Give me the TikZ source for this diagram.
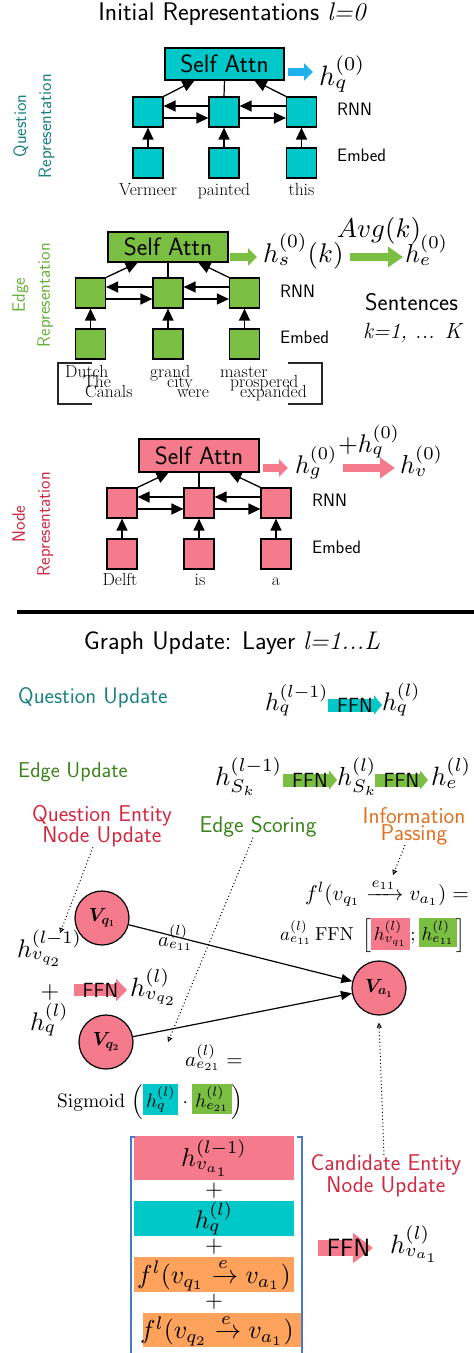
\documentclass[tikz,border=0pt]{standalone}
\usepackage{amsmath}
\usepackage{bm}
\usepackage{graphicx}
\DeclareFontShape{OML}{cmm}{m}{it}{<-6>cmmi5<6-7>cmmi6<7-8>cmmi7<8-9>cmmi8<9-10>cmmi9<10-12>cmmi10<12->cmmi12}{}
\DeclareFontShape{OML}{cmm}{b}{it}{<-6>cmmib5<6-7>cmmib6<7-8>cmmib7<8-9>cmmib8<9-10>cmmib9<10->cmmib10}{}
\DeclareFontShape{OMS}{cmsy}{m}{n}{<-6>cmsy5<6-7>cmsy6<7-8>cmsy7<8-9>cmsy8<9-10>cmsy9<10->cmsy10}{}
\DeclareFontShape{OMX}{cmex}{m}{n}{<->cmex10}{}
\DeclareFontShape{OT1}{cmr}{m}{n}{<-6>cmr5<6-7>cmr6<7-8>cmr7<8-9>cmr8<9-10>cmr9<10-12>cmr10<12-17>cmr12<17->cmr17}{}
\usetikzlibrary{arrows.meta,calc}
\definecolor{cq}{RGB}{0,200,200}
\definecolor{cg}{RGB}{122,190,66}
\definecolor{cp}{RGB}{244,122,140}
\definecolor{co}{RGB}{255,163,92}
\definecolor{cblue}{RGB}{30,176,236}
\definecolor{tteal}{RGB}{26,128,128}
\definecolor{tgreen}{RGB}{104,176,56}
\definecolor{tdgreen}{RGB}{58,130,26}
\definecolor{tred}{RGB}{208,40,64}
\definecolor{torange}{RGB}{224,112,32}
\definecolor{bblue}{RGB}{72,120,200}
\newcommand{\fsz}[1]{\fontsize{#1}{#1}\selectfont}
\newcommand{\mth}[2]{\scalebox{#1}{\fontsize{10}{12}\selectfont$#2$}}
\setlength{\fboxsep}{1.5pt}
\begin{document}
\begin{tikzpicture}[x=1pt,y=-1pt,
  sq/.style={draw,line width=1.2pt,minimum size=30pt,inner sep=0pt},
  sabox/.style={draw,line width=1.2pt,inner sep=0pt,font=\sffamily\fsz{25}},
  lbl/.style={font=\sffamily\fsz{18},anchor=west,inner sep=0pt},
  word/.style={font=\rmfamily\fsz{17.5},inner sep=0pt},
  arr/.style={line width=1.3pt,-{Triangle[length=12pt,width=11pt]}},
  plain/.style={line width=1.2pt},
  bw/.style={anchor=base west,inner sep=0pt},
  rot/.style={rotate=90,align=center,font=\sffamily\fontsize{18}{25}\selectfont},
  fatA/.style={line width=8pt,-{Triangle[length=9pt,width=17pt]}},
  fatB/.style={line width=8pt,-{Triangle[length=15pt,width=20pt]}},
  ffnA/.style={line width=13pt,-{Triangle[length=8pt,width=19pt]}},
  ffnlbl/.style={font=\sffamily\fsz{20.5},inner sep=0pt},
  sect/.style={font=\sffamily\fontsize{22.8}{17}\selectfont,align=center,inner sep=0pt},
  dotarr/.style={line width=1pt,dash pattern=on 1pt off 2.5pt,-{Triangle[open,length=5pt,width=5pt]}},
  vnode/.style={circle,draw,line width=1.2pt,fill=cp,minimum size=54pt,inner sep=0pt,font=\fsz{19}},
  edgearr/.style={line width=1.2pt,-{Triangle[length=11pt,width=9pt]}},
  cbox/.style={minimum width=160pt,inner sep=0pt}
]
\useasboundingbox (0,0) rectangle (474,1353);

%% ---------- Initial representations ----------
\node[font=\sffamily\fsz{25.5}] (title) at (232,14) {Initial Representations {\rmfamily\itshape l=0}};

% Question
\node[rot,text=tteal] (qlab) at (34,126) {Question\\Representation};
\node[sabox,fill=cq,minimum width=119pt,minimum height=32pt] (qsa) at (224.5,64) {Self Attn};
\node[sq,fill=cq] (qr1) at (148,112) {};
\node[sq,fill=cq] (qr2) at (224,112) {};
\node[sq,fill=cq] (qr3) at (301.5,112) {};
\node[sq,fill=cq] (qe1) at (148,163) {};
\node[sq,fill=cq] (qe2) at (224,163) {};
\node[sq,fill=cq] (qe3) at (301.5,163) {};
\node[word,anchor=base] (qw1) at (148,195) {Vermeer};
\node[word,anchor=base] (qw2) at (224,195) {painted};
\node[word,anchor=base] (qw3) at (301.5,195) {this};
\node[lbl] (qrnn) at (337,109) {RNN};
\node[lbl] (qemb) at (337,155) {Embed};
\foreach \i in {1,2,3} {\draw[arr] (qe\i.north) -- (qr\i.south);}
\draw[arr] ([yshift=-6pt]qr1.east) -- ([yshift=-6pt]qr2.west);
\draw[arr] ([yshift=-6pt]qr2.east) -- ([yshift=-6pt]qr3.west);
\draw[arr] ([yshift=6pt]qr2.west) -- ([yshift=6pt]qr1.east);
\draw[arr] ([yshift=6pt]qr3.west) -- ([yshift=6pt]qr2.east);
\draw[arr] (qr1.north east) -- ($(qsa.south west)!0.25!(qsa.south east)$);
\draw[arr] (qr3.north west) -- ($(qsa.south west)!0.75!(qsa.south east)$);
\draw[plain] (qr2.north) -- (qsa.south);
\node[bw] (hq0) at (319,85) {\mth{2.8}{h_q^{(0)}}};
\coordinate (qa0) at (288,72);
\coordinate (qa1) at (313,72);
\draw[fatA,cblue] (qa0) -- (qa1);

% Edge
\node[rot,text=tgreen] (elab) at (33,295) {Edge\\Representation};
\node[sabox,fill=cg,minimum width=120pt,minimum height=30pt] (esa) at (168,247) {Self Attn};
\node[sq,fill=cg] (er1) at (90.5,293) {};
\node[sq,fill=cg] (er2) at (168,293) {};
\node[sq,fill=cg] (er3) at (244.5,293) {};
\node[sq,fill=cg] (ee1) at (90.5,344) {};
\node[sq,fill=cg] (ee2) at (168,344) {};
\node[sq,fill=cg] (ee3) at (244.5,344) {};
\foreach \i in {1,2,3} {\draw[arr] (ee\i.north) -- (er\i.south);}
\draw[arr] ([yshift=-6pt]er1.east) -- ([yshift=-6pt]er2.west);
\draw[arr] ([yshift=-6pt]er2.east) -- ([yshift=-6pt]er3.west);
\draw[arr] ([yshift=6pt]er2.west) -- ([yshift=6pt]er1.east);
\draw[arr] ([yshift=6pt]er3.west) -- ([yshift=6pt]er2.east);
\draw[arr] (er1.north east) -- ($(esa.south west)!0.25!(esa.south east)$);
\draw[arr] (er3.north west) -- ($(esa.south west)!0.75!(esa.south east)$);
\draw[plain] (er2.north) -- (esa.south);
\node[word,bw] (ew11) at (65,377) {Dutch};
\node[word,bw] (ew21) at (83,387) {The};
\node[word,bw] (ew31) at (85,397) {Canals};
\node[word,bw] (ew12) at (150,377) {grand};
\node[word,bw] (ew22) at (167,387) {city};
\node[word,bw] (ew32) at (177,397) {were};
\node[word,bw] (ew13) at (220,377) {master};
\node[word,bw] (ew23) at (230,387) {prospered};
\node[word,bw] (ew33) at (240,397) {expanded};
\draw[line width=1.4pt,black!85] (92,363) -- (58,363) -- (58,404) -- (92,404);
\draw[line width=1.4pt,black!85] (288,363) -- (322,363) -- (322,404) -- (288,404);
\node[lbl] (ernn) at (280,291) {RNN};
\node[lbl] (eemb) at (280,337) {Embed};
\node[bw] (hs0) at (263,262) {\mth{2.7}{h_s^{(0)}(k)}};
\node[bw] (he0) at (405,262) {\mth{2.6}{h_e^{(0)}}};
\node[anchor=base,inner sep=0pt] (avg) at (379,237) {\mth{2.7}{Avg(k)}};
\coordinate (ga0) at (230,257);
\coordinate (ga1) at (257,257);
\coordinate (ga2) at (350,257);
\coordinate (ga3) at (403,257);
\draw[fatA,cg] (ga0) -- (ga1);
\draw[fatB,cg] (ga2) -- (ga3);
\node[lbl,font=\sffamily\fsz{24}] (sent) at (365,302) {Sentences};
\node[lbl,font=\rmfamily\itshape\fsz{22}] (kk) at (363,333) {k=1, ... K};

% Node
\node[rot,text=tred] (nlab) at (33,524) {Node\\Representation};
\node[sabox,fill=cp,minimum width=120pt,minimum height=33pt] (nsa) at (199,455.5) {Self Attn};
\node[sq,fill=cp] (nr1) at (122,503) {};
\node[sq,fill=cp] (nr2) at (199,503) {};
\node[sq,fill=cp] (nr3) at (276,503) {};
\node[sq,fill=cp] (ne1) at (122,554) {};
\node[sq,fill=cp] (ne2) at (199,554) {};
\node[sq,fill=cp] (ne3) at (276,554) {};
\foreach \i in {1,2,3} {\draw[arr] (ne\i.north) -- (nr\i.south);}
\draw[arr] ([yshift=-6pt]nr1.east) -- ([yshift=-6pt]nr2.west);
\draw[arr] ([yshift=-6pt]nr2.east) -- ([yshift=-6pt]nr3.west);
\draw[arr] ([yshift=6pt]nr2.west) -- ([yshift=6pt]nr1.east);
\draw[arr] ([yshift=6pt]nr3.west) -- ([yshift=6pt]nr2.east);
\draw[arr] (nr1.north east) -- ($(nsa.south west)!0.25!(nsa.south east)$);
\draw[arr] (nr3.north west) -- ($(nsa.south west)!0.75!(nsa.south east)$);
\draw[plain] (nr2.north) -- (nsa.south);
\node[word,anchor=base] (nw1) at (120,585) {Delft};
\node[word,anchor=base] (nw2) at (200,585) {is};
\node[word,anchor=base] (nw3) at (276,585) {a};
\node[lbl] (nrnn) at (312,500) {RNN};
\node[lbl] (nemb) at (312,547) {Embed};
\node[bw] (hg0) at (295,473) {\mth{2.55}{h_g^{(0)}}};
\node[bw] (hv0) at (400,473) {\mth{2.6}{h_v^{(0)}}};
\node[anchor=base,inner sep=0pt] (plusq) at (369,452) {\mth{2.55}{+h_q^{(0)}}};
\coordinate (pa0) at (263,468);
\coordinate (pa1) at (288,468);
\coordinate (pa2) at (343,468);
\coordinate (pa3) at (395,468);
\draw[fatA,cp] (pa0) -- (pa1);
\draw[fatB,cp] (pa2) -- (pa3);

% separator
\draw[line width=4pt] (17,612) -- (474,612);

%% ---------- Graph update ----------
\node[font=\sffamily\fsz{25.5}] (title2) at (232,643) {Graph Update: Layer {\rmfamily\itshape l=1...L}};
\node[lbl,font=\sffamily\fsz{22.5},text=tteal] (qupd) at (18,698) {Question Update};
\node[lbl,font=\sffamily\fsz{21.5},text=tdgreen] (eupd) at (18,772) {Edge Update};

\node[bw] (hql1) at (265,710) {\mth{2.5}{h_q^{(l-1)}}};
\node[bw] (hql) at (382,710) {\mth{2.55}{h_q^{(l)}}};
\coordinate (qf0) at (328,705);
\coordinate (qf1) at (382,705);
\draw[ffnA,cq] (qf0) -- node[ffnlbl,text=black]{FFN} (qf1);

\node[bw] (hsk1) at (215,785) {\mth{2.65}{h_{S_k}^{(l-1)}}};
\node[bw] (hsk) at (337,785) {\mth{2.6}{h_{S_k}^{(l)}}};
\node[bw] (hel) at (431,785) {\mth{2.65}{h_e^{(l)}}};
\coordinate (ef0) at (283,780);
\coordinate (ef1) at (337,780);
\coordinate (ef2) at (375,780);
\coordinate (ef3) at (428,780);
\draw[ffnA,cg] (ef0) -- node[ffnlbl,text=black]{FFN} (ef1);
\draw[ffnA,cg] (ef2) -- node[ffnlbl,text=black]{FFN} (ef3);

% section labels
\node[sect,text=tred] (qen) at (102,826) {Question Entity\\Node Update};
\node[sect,text=tdgreen] (esc) at (258,827) {Edge Scoring};
\node[sect,text=torange] (ipass) at (414,826) {Information\\Passing};

% graph
\node[vnode] (vq1) at (102,918) {$\bm{V_{q_1}}$};
\node[vnode] (vq2) at (106,1042) {$\bm{V_{q_2}}$};
\node[vnode] (va1) at (379,988) {$\bm{V_{a_1}}$};
\draw[edgearr] (vq1) -- (va1);
\draw[edgearr] (vq2) -- (va1);
\node[bw] (ae11) at (158,946) {\mth{2.05}{a_{e_{11}}^{(l)}}};

\node[bw] (fline) at (305,900) {\mth{2.13}{f^l(v_{q_1} \xrightarrow{e_{11}} v_{a_1}) =}};
\node[bw] (aline) at (280,940) {\mth{1.88}{a_{e_{11}}^{(l)}\,\mathrm{FFN}\;\left[\colorbox{cp}{$h_{v_{q_1}}^{(l)}$};\colorbox{cg}{$h_{e_{11}}^{(l)}$}\right]}};

\node[bw] (hvq2l1) at (17,957) {\mth{2.55}{h_{v_{q_2}}^{(l-1)}}};
\node[inner sep=0pt] (plus5) at (50,992) {\mth{2.4}{+}};
\node[bw] (hq5) at (30,1030) {\mth{2.55}{h_q^{(l)}}};
\node[bw] (hvq2l) at (130,996) {\mth{2.65}{h_{v_{q_2}}^{(l)}}};
\coordinate (nf0) at (74,990);
\coordinate (nf1) at (127,990);
\draw[line width=12pt,-{Triangle[length=11pt,width=22pt]},cp] (nf0) -- node[ffnlbl,font=\sffamily\fsz{20.5},text=black]{FFN} (nf1);

\node[bw] (ae21) at (185,1066) {\mth{2.1}{a_{e_{21}}^{(l)} =}};
\node[bw] (sig) at (57,1107) {\mth{1.94}{\mathrm{Sigmoid}\,\left(\colorbox{cq}{$h_q^{(l)}$}\cdot\colorbox{cg}{$h_{e_{21}}^{(l)}$}\right)}};

% candidate update
\node[cbox,fill=cp,minimum height=44pt] (b1) at (214,1158) {\mth{2.6}{h_{v_{a_1}}^{(l-1)}}};
\node[inner sep=0pt] (pl1) at (214,1191) {\mth{2.3}{+}};
\node[cbox,fill=cq,minimum height=35pt] (b2) at (214,1218.5) {\mth{2.55}{h_q^{(l)}}};
\node[inner sep=0pt] (pl2) at (214,1247) {\mth{2.3}{+}};
\node[cbox,fill=co,minimum height=35pt] (b3) at (214,1274.5) {\mth{2.6}{f^l(v_{q_1} \xrightarrow{e} v_{a_1})}};
\node[inner sep=0pt] (pl3) at (214,1302) {\mth{2.3}{+}};
\node[cbox,fill=co,minimum width=159pt,minimum height=34pt] (b4) at (222.5,1330) {};
\node[inner sep=0pt] (b4t) at (217,1330) {\mth{2.6}{f^l(v_{q_2} \xrightarrow{e} v_{a_1})}};
\draw[bblue,line width=1.2pt] (135,1137) -- (131,1137) -- (131,1353);
\draw[bblue,line width=1.2pt] (297,1137) -- (302,1137) -- (302,1353);

\node[sect,text=tred] (cen) at (386,1176) {Candidate Entity\\Node Update};
\node[bw] (hval) at (390,1253) {\mth{2.65}{h_{v_{a_1}}^{(l)}}};
\coordinate (cf0) at (318,1248);
\coordinate (cf1) at (373,1248);
\draw[line width=16pt,-{Triangle[length=20pt,width=29pt]},cp] (cf0) -- node[ffnlbl,font=\sffamily\fsz{25},text=black,xshift=3pt]{FFN} (cf1);

% dotted pointers
\coordinate (qet) at (60,933);
\coordinate (est) at (168,1042);
\coordinate (ipt) at (393,875);
\draw[dotarr] ([xshift=-9pt]qen.south) -- (qet);
\draw[dotarr] ([xshift=-5pt]esc.south) -- (est);
\draw[dotarr] ([xshift=-9pt]ipass.south) -- (ipt);
\draw[dotarr] ([xshift=-2pt]cen.north) -- ([yshift=-7pt]va1.south);
\end{tikzpicture}
\end{document}
